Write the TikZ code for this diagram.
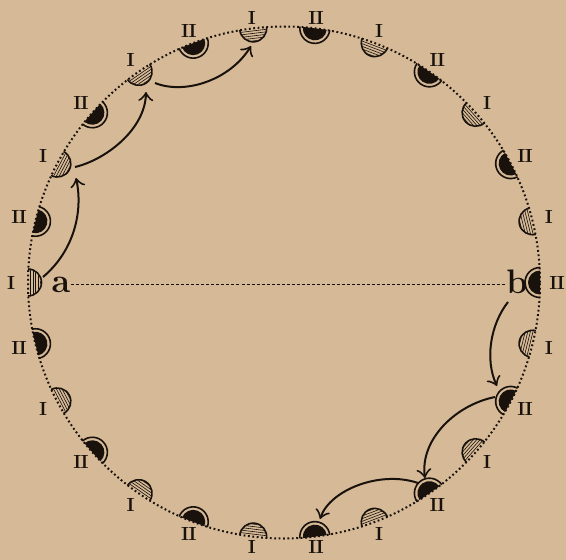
\documentclass[tikz,border=0pt]{standalone}
\usetikzlibrary{arrows.meta}
\definecolor{paper}{RGB}{214,186,151}
\definecolor{ink}{RGB}{25,18,12}
\begin{document}
\begin{tikzpicture}[x=1pt,y=1pt,
  dotline/.style={ink, line width=2pt, dash pattern=on 1.8pt off 2.6pt},
  dashln/.style={ink, line width=1.4pt, dash pattern=on 3pt off 2pt},
  arr/.style={ink, line width=2pt, -{Classical TikZ Rightarrow[length=9pt,width=15pt]}},
  lbl/.style={ink, font=\fontsize{19}{19}\selectfont\bfseries, inner sep=0pt},
  letter/.style={ink, font=\fontsize{34}{34}\selectfont\bfseries, inner sep=1pt},
  hatch/.style={ink, line width=0.6pt},
  rim/.style={ink, line width=1.6pt}]
\fill[paper] (0,0) rectangle (566,-560);
\useasboundingbox (0,0) rectangle (566,-560);
\begin{scope}[shift={(284,-282.5)}]
\draw[dotline] (0,0) circle[radius=256];
\foreach \k in {0,...,25}{
  \pgfmathsetmacro\ang{180-\k*360/26}
  \pgfmathsetmacro\lr{266+7*abs(cos(\ang))}
  \coordinate (m\k) at (\ang:256);
  \node[lbl] (l\k) at (\ang:\lr) {\ifodd\k I\kern-0.5pt I\else I\fi};
  \begin{scope}[shift={(\ang:256)}, rotate=\ang]
    \ifodd\k
      \fill[ink] (0,-12) arc[start angle=-90,end angle=-270,radius=12] -- cycle;
      \draw[rim] (0,-15) arc[start angle=-90,end angle=-270,radius=15];
    \else
      \begin{scope}
        \clip (0,-13) arc[start angle=-90,end angle=-270,radius=13] -- cycle;
        \foreach \h in {2.5,5,...,12.5} \draw[hatch] (-\h,-14) -- (-\h,14);
      \end{scope}
      \draw[rim] (0,-13.5) arc[start angle=-90,end angle=-270,radius=13.5];
    \fi
  \end{scope}
}
\end{scope}
\node[letter, anchor=base] (a) at (61,-292) {a};
\node[letter, anchor=base] (b) at (517,-293) {b};
\draw[dashln] (a.east) -- (a.east -| b.west);
% arrows
\coordinate (s1) at (43,-277); \coordinate (t1) at (76,-178);
\coordinate (s2) at (75,-167); \coordinate (t2) at (146,-92);
\coordinate (s3) at (155,-83); \coordinate (t3) at (251,-46);
\coordinate (s4) at (508,-302); \coordinate (t4) at (497,-386);
\coordinate (s5) at (495,-397); \coordinate (t5) at (425,-478);
\coordinate (s6) at (418,-483); \coordinate (t6) at (320,-519);
\draw[arr] (s1) .. controls (75,-250) and (83,-210) .. (t1);
\draw[arr] (s2) .. controls (105,-160) and (145,-130) .. (t2);
\draw[arr] (s3) .. controls (185,-95) and (230,-80) .. (t3);
\draw[arr] (s4) .. controls (490,-325) and (485,-360) .. (t4);
\draw[arr] (s5) .. controls (455,-405) and (420,-440) .. (t5);
\draw[arr] (s6) .. controls (380,-470) and (330,-490) .. (t6);
\end{tikzpicture}
\end{document}
